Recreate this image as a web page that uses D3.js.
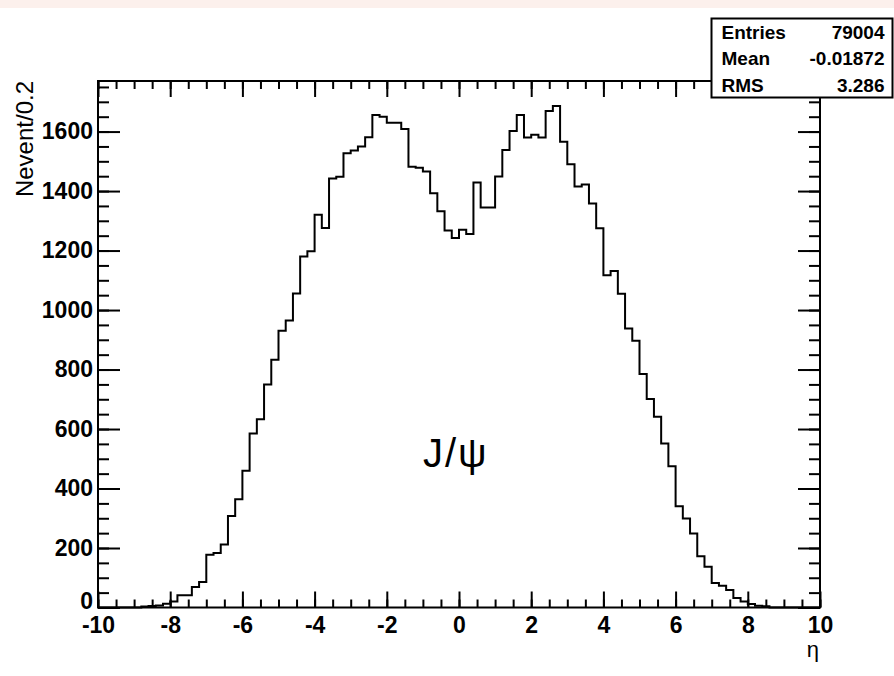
<!DOCTYPE html>
<html>
<head>
<meta charset="utf-8">
<script src="https://cdn.jsdelivr.net/npm/d3@7/dist/d3.min.js"></script>
<style>
  html, body { margin: 0; padding: 0; background: #ffffff; }
  svg { display: block; }
</style>
</head>
<body>
<svg id="chart" width="894" height="676"></svg>
<script>
// Pseudorapidity distribution of J/psi, 100 bins of 0.2 from -10 to 10
const binLow = -10;
const binWidth = 0.2;
const binCounts = [
  0, 0, 0, 0, 0, 0, 3, 5, 7, 13,
  20, 41, 41, 69, 86, 177, 183, 212, 308, 364,
  460, 585, 633, 750, 833, 930, 965, 1056, 1180, 1198,
  1320, 1276, 1442, 1448, 1527, 1536, 1550, 1581, 1656, 1650,
  1630, 1630, 1609, 1482, 1478, 1466, 1393, 1332, 1267, 1242,
  1270, 1256, 1429, 1345, 1345, 1449, 1538, 1602, 1656, 1580,
  1589, 1580, 1669, 1686, 1566, 1490, 1415, 1422, 1358, 1275,
  1117, 1131, 1055, 938, 897, 785, 701, 641, 551, 475,
  340, 299, 249, 172, 137, 82, 73, 59, 32, 20,
  12, 6, 4, 0, 0, 0, 0, 0, 0, 0
];

// Axis ranges and tick marks
const xDomain = [-10, 10];
const yDomain = [0, 1770];
const xMajorTicks = [-10, -8, -6, -4, -2, 0, 2, 4, 6, 8, 10];
const xMinorTicks = d3.range(-10, 10.001, 0.5);
const yMajorTicks = [0, 200, 400, 600, 800, 1000, 1200, 1400, 1600];
const yMinorTicks = d3.range(0, 1751, 50);

// Statistics box
const statNames = ["Entries", "Mean", "RMS"];
const statValues = ["79004", "-0.01872", "3.286"];

const xTitle = "\u03b7";
const yTitle = "Nevent/0.2";
const particleLabel = "J/\u03c8";

const frame = { left: 98, right: 820, top: 81, bottom: 607.5 };

const svg = d3.select("#chart");

// light band along the top edge
svg.append("rect").attr("x", 0).attr("y", 0).attr("width", 894).attr("height", 8)
  .attr("fill", "#fcf0ec");

const x = d3.scaleLinear().domain(xDomain).range([frame.left, frame.right]);
const y = d3.scaleLinear().domain(yDomain).range([frame.bottom, frame.top]);

const labelFont = "'Liberation Sans', Arial, Helvetica, sans-serif";
const plainNumber = d => String(d);   // ASCII hyphen for negatives

function styleAxis(g, showLabels) {
  g.select(".domain").remove();
  g.selectAll(".tick line").attr("stroke", "#000").attr("stroke-width", 2);
  if (!showLabels) g.selectAll(".tick text").remove();
  else g.selectAll(".tick text")
        .attr("fill", "#000")
        .style("font-family", labelFont)
        .style("font-weight", "bold")
        .style("font-size", "23px");
}

// bottom axis: major with labels, minor without
svg.append("g").attr("transform", `translate(0,${frame.bottom})`)
  .call(d3.axisBottom(x).tickValues(xMinorTicks).tickSize(-8).tickSizeOuter(0).tickFormat(""))
  .call(g => styleAxis(g, false));
svg.append("g").attr("transform", `translate(0,${frame.bottom})`)
  .call(d3.axisBottom(x).tickValues(xMajorTicks).tickSize(-16).tickSizeOuter(0).tickPadding(9).tickFormat(plainNumber))
  .call(g => styleAxis(g, true));

// top axis mirrors the ticks
svg.append("g").attr("transform", `translate(0,${frame.top})`)
  .call(d3.axisTop(x).tickValues(xMinorTicks).tickSize(-8).tickSizeOuter(0).tickFormat(""))
  .call(g => styleAxis(g, false));
svg.append("g").attr("transform", `translate(0,${frame.top})`)
  .call(d3.axisTop(x).tickValues(xMajorTicks).tickSize(-16).tickSizeOuter(0).tickFormat(""))
  .call(g => styleAxis(g, false));

// left axis
svg.append("g").attr("transform", `translate(${frame.left},0)`)
  .call(d3.axisLeft(y).tickValues(yMinorTicks).tickSize(-11).tickSizeOuter(0).tickFormat(""))
  .call(g => styleAxis(g, false));
svg.append("g").attr("transform", `translate(${frame.left},0)`)
  .call(d3.axisLeft(y).tickValues(yMajorTicks).tickSize(-22).tickSizeOuter(0).tickPadding(5).tickFormat(plainNumber))
  .call(g => styleAxis(g, true))
  .call(g => g.selectAll(".tick text").filter(d => d === 0).attr("dy", "0.05em"));

// right axis mirrors the ticks
svg.append("g").attr("transform", `translate(${frame.right},0)`)
  .call(d3.axisRight(y).tickValues(yMinorTicks).tickSize(-11).tickSizeOuter(0).tickFormat(""))
  .call(g => styleAxis(g, false));
svg.append("g").attr("transform", `translate(${frame.right},0)`)
  .call(d3.axisRight(y).tickValues(yMajorTicks).tickSize(-22).tickSizeOuter(0).tickFormat(""))
  .call(g => styleAxis(g, false));

// histogram outline
const stepPoints = binCounts.map((c, i) => [binLow + i * binWidth, c]);
stepPoints.push([binLow + binCounts.length * binWidth, binCounts[binCounts.length - 1]]);
const histLine = d3.line()
  .x(d => x(d[0]))
  .y(d => y(d[1]))
  .curve(d3.curveStepAfter);
svg.append("path")
  .datum(stepPoints)
  .attr("d", histLine)
  .attr("fill", "none")
  .attr("stroke", "#000")
  .attr("stroke-width", 2)
  .attr("stroke-linejoin", "miter");

// frame
svg.append("rect")
  .attr("x", frame.left).attr("y", frame.top)
  .attr("width", frame.right - frame.left).attr("height", frame.bottom - frame.top)
  .attr("fill", "none").attr("stroke", "#000").attr("stroke-width", 2);

// axis titles
svg.append("text")
  .attr("transform", `translate(33,${frame.top}) rotate(-90)`)
  .attr("text-anchor", "end")
  .style("font-family", labelFont)
  .style("font-size", "24px")
  .attr("fill", "#000")
  .text(yTitle);

svg.append("text")
  .attr("x", frame.right - 1).attr("y", 657)
  .attr("text-anchor", "end")
  .style("font-family", labelFont)
  .style("font-size", "22px")
  .attr("fill", "#000")
  .text(xTitle);

// statistics box
const box = { x: 711.5, y: 18.5, w: 181, h: 79 };
svg.append("rect")
  .attr("x", box.x).attr("y", box.y).attr("width", box.w).attr("height", box.h)
  .attr("fill", "#fff").attr("stroke", "#000").attr("stroke-width", 2);
statNames.forEach((name, i) => {
  const base = 38.5 + i * 26.5;
  svg.append("text")
    .attr("x", box.x + 10).attr("y", base)
    .style("font-family", labelFont).style("font-weight", "bold").style("font-size", "19px")
    .attr("fill", "#000")
    .text(name);
  svg.append("text")
    .attr("x", box.x + box.w - 8).attr("y", base)
    .attr("text-anchor", "end")
    .style("font-family", labelFont).style("font-weight", "bold").style("font-size", "19px")
    .attr("fill", "#000")
    .text(statValues[i]);
});

// particle label
svg.append("text")
  .attr("x", 423).attr("y", 467)
  .style("font-family", labelFont)
  .style("font-size", "40px")
  .style("letter-spacing", "2px")
  .attr("fill", "#000")
  .text(particleLabel);
</script>
</body>
</html>
